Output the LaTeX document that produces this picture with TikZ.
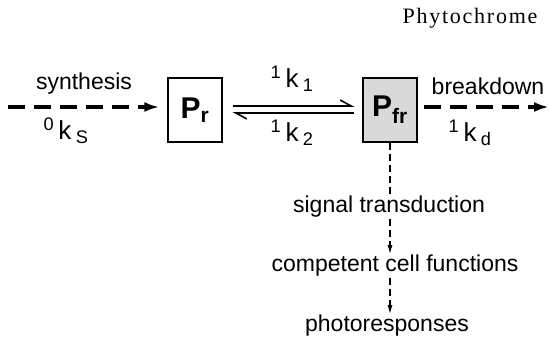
\documentclass[tikz,border=0pt]{standalone}
\usepackage{fontspec}
\setmainfont{Liberation Sans}
\newfontfamily\phytofont[LetterSpace=8]{Liberation Serif}
\usetikzlibrary{arrows.meta, positioning}

\begin{document}
\begin{tikzpicture}[x=1pt, y=1pt, node distance=195pt, >={Latex[length=9pt,width=5pt]},
    box/.style={rectangle, draw, line width=1.4pt, minimum width=54pt, minimum height=64pt, inner sep=0pt, font=\fontsize{30}{30}\selectfont\bfseries},
    lbl/.style={inner sep=1pt, font=\fontsize{23}{25}\selectfont},
    rate/.style={inner sep=1pt, font=\fontsize{26}{28}\selectfont},
    flux/.style={line width=3.5pt, dash pattern=on 17pt off 9pt, -{Latex[length=15pt,width=10pt]}},
    cascade/.style={line width=1.2pt, dash pattern=on 7pt off 4pt, ->},
    eq/.style={line width=1.6pt, -{Straight Barb[left, length=11pt, width=12pt]}}]
    \useasboundingbox (0,0) rectangle (551,338);

    \node (title) [font=\phytofont\fontsize{22}{24}\selectfont] at (470,320) {Phytochrome};

    \node (pr) [box] at (195,228) {P\textsubscript{r}};
    \node (pfr) [box, fill=black!15, right of=pr] {P\textsubscript{fr}};

    % inflow and outflow
    \coordinate (src) at (8,231);
    \coordinate (sink) at (549,231);
    \draw[flux, shorten >=8pt] (src) -- (src -| pr.west);
    \draw[flux, shorten <=6pt] (pfr.east |- sink) -- (sink);
    \node (syn) [lbl] at (84,254) {synthesis};
    \node (ks) [rate] at (66,207) {\textsuperscript{0}\,k\,\textsubscript{S}};
    \node (brk) [lbl] at (488,252) {breakdown};
    \node (kd) [rate] at (470,205) {\textsuperscript{1}\,k\,\textsubscript{d}};

    % photoconversion
    \draw[eq] ([shift={(10pt,4pt)}]pr.east) -- ([shift={(-8pt,4pt)}]pfr.west);
    \draw[eq] ([shift={(-8pt,-3pt)}]pfr.west) -- ([shift={(10pt,-3pt)}]pr.east);
    \node (k1) [rate] at (292,259) {\textsuperscript{1}\,k\,\textsubscript{1}};
    \node (k2) [rate] at (292,205) {\textsuperscript{1}\,k\,\textsubscript{2}};

    % response chain
    \node (sig) [lbl] at (389,131) {signal transduction};
    \node (comp) [lbl] at (395,72) {competent cell functions};
    \node (resp) [lbl] at (387,12) {photoresponses};
    \draw[cascade, -] (pfr.south) -- (pfr.south |- sig.north);
    \draw[cascade] (pfr.south |- sig.south) -- (pfr.south |- comp.north);
    \draw[cascade] (pfr.south |- comp.south) -- (pfr.south |- resp.north);
\end{tikzpicture}
\end{document}
